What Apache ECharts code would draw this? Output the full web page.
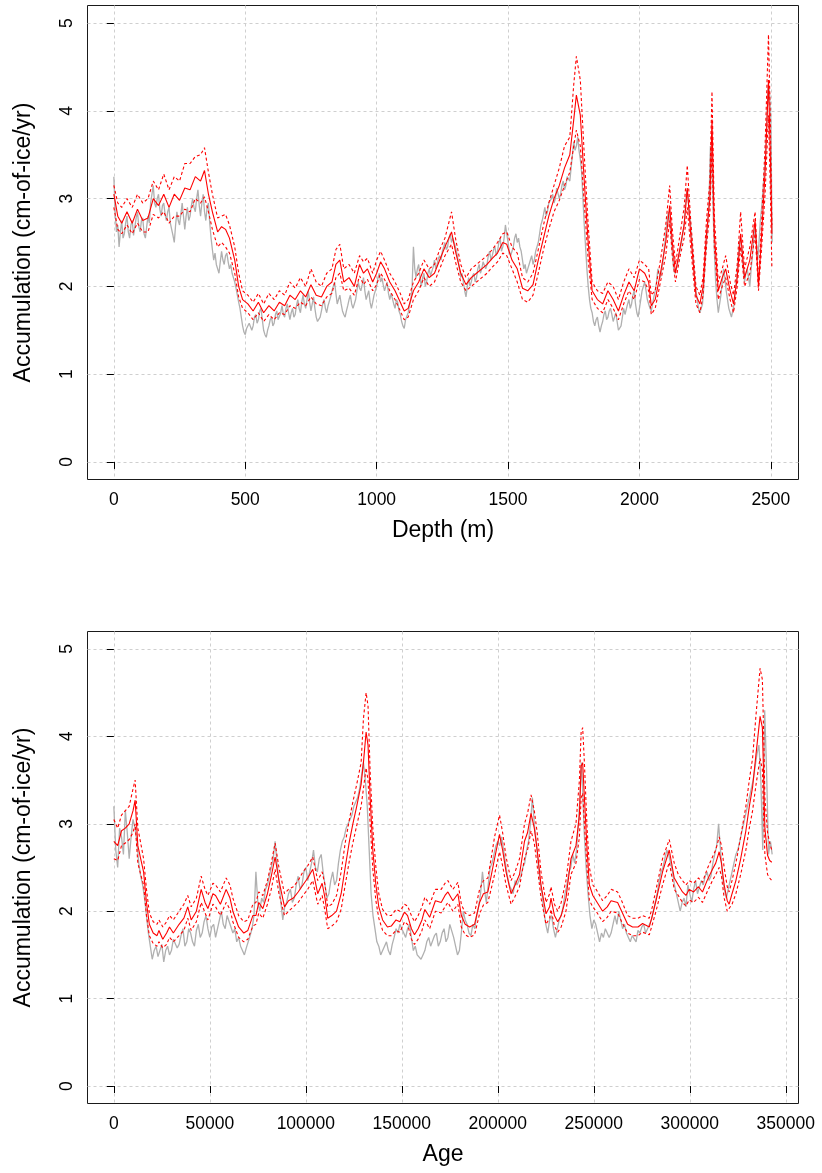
<!DOCTYPE html>
<html>
<head>
<meta charset="utf-8">
<script src="https://cdn.jsdelivr.net/npm/echarts@6/dist/echarts.min.js"></script>
<style>
html,body{margin:0;padding:0;background:#fff;}
#chart{width:822px;height:1173px;}
</style>
</head>
<body>
<div id="chart"></div>
<script>
// ---------- tick labels ----------
const accTicks = [0, 1, 2, 3, 4, 5];
const depthTicks = [0, 500, 1000, 1500, 2000, 2500];
const ageTicks = [0, 50000, 100000, 150000, 200000, 250000, 300000, 350000];

// ---------- top panel: accumulation vs depth ----------
const depthGray = [[0,3.25],[5,2.85],[10,2.62],[15,2.7],[20,2.45],[25,2.62],[30,2.75],[35,2.55],[40,2.6],[45,2.72],[50,2.8],[55,2.62],[60,2.55],[65,2.7],[70,2.75],[75,2.58],[80,2.6],[85,2.78],[90,2.85],[95,2.68],[100,2.62],[105,2.75],[110,2.78],[115,2.6],[120,2.55],[125,2.68],[130,2.8],[135,2.72],[140,2.95],[145,3.05],[150,3.15],[155,2.95],[160,2.9],[165,3.0],[170,3.05],[175,2.88],[180,2.8],[185,2.92],[190,2.95],[195,2.82],[200,2.75],[205,2.85],[210,2.9],[215,2.72],[220,2.65],[225,2.58],[230,2.5],[235,2.7],[240,2.85],[245,2.75],[250,2.7],[255,2.82],[260,2.95],[265,2.8],[270,2.65],[275,2.8],[280,2.9],[285,2.75],[290,2.8],[295,2.92],[300,3.0],[305,2.9],[310,2.85],[315,3.0],[320,3.1],[325,2.92],[330,2.8],[335,2.95],[340,3.05],[345,2.85],[350,2.75],[355,2.9],[360,2.95],[365,2.72],[370,2.55],[375,2.42],[380,2.3],[385,2.38],[390,2.25],[395,2.2],[400,2.15],[405,2.28],[410,2.4],[415,2.3],[420,2.25],[425,2.35],[430,2.38],[435,2.28],[440,2.2],[445,2.25],[450,2.15],[455,2.1],[460,2.05],[465,1.98],[470,1.9],[475,1.82],[480,1.75],[485,1.65],[490,1.55],[495,1.48],[500,1.45],[505,1.52],[510,1.5],[515,1.58],[520,1.6],[525,1.5],[530,1.55],[535,1.65],[540,1.68],[545,1.58],[550,1.62],[555,1.72],[560,1.75],[565,1.62],[570,1.5],[575,1.45],[580,1.42],[585,1.5],[590,1.55],[595,1.62],[600,1.65],[605,1.55],[610,1.58],[615,1.68],[620,1.72],[625,1.62],[630,1.6],[635,1.7],[640,1.78],[645,1.68],[650,1.65],[655,1.75],[660,1.8],[665,1.7],[670,1.62],[675,1.7],[680,1.75],[685,1.65],[690,1.68],[695,1.78],[700,1.85],[705,1.75],[710,1.7],[715,1.82],[720,1.9],[725,1.8],[730,1.75],[735,1.85],[740,1.95],[745,1.82],[750,1.72],[755,1.8],[760,1.88],[765,1.75],[770,1.65],[775,1.6],[780,1.58],[785,1.65],[790,1.72],[795,1.8],[800,1.85],[805,1.75],[810,1.7],[815,1.78],[820,1.8],[825,1.88],[830,1.95],[835,2.0],[840,2.05],[845,1.92],[850,1.8],[855,1.85],[860,1.9],[865,1.8],[870,1.72],[875,1.68],[880,1.65],[885,1.72],[890,1.78],[895,1.85],[900,1.9],[905,1.8],[910,1.75],[915,1.8],[920,1.85],[925,1.95],[930,2.05],[935,1.98],[940,1.95],[945,2.02],[950,2.1],[955,1.95],[960,1.85],[965,1.9],[970,1.95],[975,1.82],[980,1.75],[985,1.82],[990,1.9],[995,1.95],[1000,2.0],[1005,2.1],[1010,2.15],[1015,2.05],[1020,2.1],[1025,2.02],[1030,1.95],[1035,2.0],[1040,2.05],[1045,1.92],[1050,1.85],[1055,1.92],[1060,1.9],[1065,1.8],[1070,1.75],[1075,1.85],[1080,1.82],[1085,1.72],[1090,1.68],[1095,1.6],[1100,1.55],[1105,1.52],[1110,1.62],[1115,1.6],[1120,1.7],[1125,1.78],[1130,1.85],[1135,2.0],[1140,2.45],[1145,2.2],[1150,2.1],[1155,2.2],[1160,2.25],[1165,2.1],[1170,2.0],[1175,2.1],[1180,2.15],[1185,2.0],[1190,2.05],[1195,2.15],[1200,2.2],[1205,2.12],[1210,2.1],[1215,2.22],[1220,2.3],[1225,2.2],[1230,2.25],[1235,2.32],[1240,2.35],[1245,2.3],[1250,2.4],[1255,2.45],[1260,2.5],[1265,2.42],[1270,2.45],[1275,2.55],[1280,2.6],[1285,2.5],[1290,2.55],[1295,2.5],[1300,2.45],[1305,2.38],[1310,2.3],[1315,2.2],[1320,2.1],[1325,2.15],[1330,2.05],[1335,1.95],[1340,1.88],[1345,2.0],[1350,2.1],[1355,2.0],[1360,2.05],[1365,2.12],[1370,2.15],[1375,2.05],[1380,2.1],[1385,2.2],[1390,2.25],[1395,2.15],[1400,2.2],[1405,2.28],[1410,2.3],[1415,2.2],[1420,2.25],[1425,2.35],[1430,2.4],[1435,2.3],[1440,2.35],[1445,2.42],[1450,2.45],[1455,2.35],[1460,2.4],[1465,2.5],[1470,2.55],[1475,2.4],[1480,2.45],[1485,2.55],[1490,2.7],[1495,2.6],[1500,2.5],[1505,2.4],[1510,2.35],[1515,2.4],[1520,2.45],[1525,2.55],[1530,2.6],[1535,2.5],[1540,2.55],[1545,2.45],[1550,2.4],[1555,2.3],[1560,2.2],[1565,2.25],[1570,2.15],[1575,2.2],[1580,2.25],[1585,2.3],[1590,2.35],[1595,2.25],[1600,2.3],[1605,2.4],[1610,2.45],[1615,2.5],[1620,2.6],[1625,2.7],[1630,2.75],[1635,2.82],[1640,2.9],[1645,2.8],[1650,2.85],[1655,2.95],[1660,2.95],[1665,3.0],[1670,3.05],[1675,2.95],[1680,3.0],[1685,3.12],[1690,3.1],[1695,3.0],[1700,3.05],[1705,3.15],[1710,3.2],[1715,3.1],[1720,3.15],[1725,3.25],[1730,3.25],[1735,3.2],[1740,3.35],[1745,3.5],[1750,3.65],[1755,3.55],[1760,3.6],[1765,3.7],[1770,3.55],[1775,3.45],[1780,3.3],[1785,3.0],[1790,2.7],[1795,2.45],[1800,2.2],[1805,2.0],[1810,1.85],[1815,1.75],[1820,1.7],[1825,1.6],[1830,1.55],[1835,1.62],[1840,1.65],[1845,1.55],[1850,1.48],[1855,1.55],[1860,1.6],[1865,1.68],[1870,1.72],[1875,1.62],[1880,1.65],[1885,1.72],[1890,1.75],[1895,1.68],[1900,1.6],[1905,1.65],[1910,1.7],[1915,1.6],[1920,1.5],[1925,1.48],[1930,1.55],[1935,1.65],[1940,1.75],[1945,1.68],[1950,1.7],[1955,1.8],[1960,1.85],[1965,1.75],[1970,1.8],[1975,1.9],[1980,1.95],[1985,1.8],[1990,1.7],[1995,1.65],[2000,1.75],[2005,1.85],[2010,1.95],[2015,2.0],[2020,2.05],[2025,1.95],[2030,1.85],[2035,1.8],[2040,1.75],[2045,1.72],[2050,1.8],[2055,1.88],[2060,1.95],[2065,2.05],[2070,2.2],[2075,2.15],[2080,2.1],[2085,2.2],[2090,2.3],[2095,2.45],[2100,2.6],[2105,2.75],[2110,2.85],[2115,2.75],[2120,2.6],[2125,2.4],[2130,2.2],[2135,2.15],[2140,2.15],[2145,2.25],[2150,2.35],[2155,2.42],[2160,2.5],[2165,2.6],[2170,2.7],[2175,2.9],[2180,3.1],[2185,3.0],[2190,2.85],[2195,2.7],[2200,2.5],[2205,2.3],[2210,2.1],[2215,1.95],[2220,1.85],[2225,1.75],[2230,1.7],[2235,1.75],[2240,1.8],[2245,2.0],[2250,2.3],[2255,2.5],[2260,2.7],[2265,3.0],[2270,3.6],[2275,3.4],[2280,2.9],[2285,2.4],[2290,2.05],[2295,1.85],[2300,1.7],[2305,1.8],[2310,1.9],[2315,2.05],[2320,2.2],[2325,2.1],[2330,1.95],[2335,1.85],[2340,1.75],[2345,1.7],[2350,1.65],[2355,1.72],[2360,1.8],[2365,1.95],[2370,2.1],[2375,2.3],[2380,2.5],[2385,2.55],[2390,2.4],[2395,2.2],[2400,2.05],[2405,2.15],[2410,2.2],[2415,2.1],[2420,2.0],[2425,2.2],[2430,2.35],[2435,2.55],[2440,2.7],[2445,2.5],[2450,2.3],[2455,2.5],[2460,2.75],[2465,2.9],[2470,3.1],[2475,3.3],[2480,3.5],[2485,3.9],[2490,4.3],[2495,4.2],[2500,3.9],[2505,2.5]];

const depthMean = [[0,3.05],[15,2.8],[30,2.72],[50,2.85],[70,2.72],[90,2.88],[110,2.75],[130,2.78],[150,3.0],[170,2.92],[190,3.05],[210,2.9],[230,3.05],[250,2.98],[270,3.12],[290,3.1],[310,3.25],[330,3.2],[345,3.32],[360,3.05],[375,2.85],[395,2.62],[410,2.68],[425,2.65],[440,2.55],[460,2.3],[475,2.0],[490,1.85],[510,1.8],[530,1.72],[550,1.82],[570,1.7],[590,1.78],[610,1.72],[630,1.82],[650,1.78],[670,1.9],[690,1.85],[710,1.95],[730,1.88],[750,2.02],[770,1.9],[790,1.88],[810,2.0],[830,2.05],[845,2.25],[860,2.3],[875,2.05],[895,2.1],[915,2.0],[935,2.25],[950,2.15],[965,2.2],[985,2.05],[1000,2.15],[1015,2.28],[1030,2.2],[1050,2.05],[1070,1.95],[1090,1.82],[1105,1.72],[1120,1.75],[1140,1.95],[1160,2.05],[1180,2.2],[1200,2.1],[1220,2.15],[1240,2.3],[1260,2.45],[1285,2.62],[1300,2.4],[1320,2.15],[1340,2.02],[1360,2.1],[1380,2.15],[1400,2.2],[1420,2.25],[1440,2.32],[1460,2.38],[1480,2.5],[1495,2.48],[1515,2.3],[1535,2.2],[1555,1.98],[1575,1.95],[1595,2.02],[1615,2.3],[1635,2.55],[1655,2.8],[1675,3.0],[1695,3.15],[1715,3.35],[1735,3.5],[1750,3.9],[1760,4.18],[1775,3.95],[1790,3.2],[1805,2.5],[1820,1.95],[1840,1.85],[1860,1.8],[1880,1.95],[1900,1.85],[1920,1.72],[1940,1.9],[1960,2.05],[1980,1.95],[2000,2.2],[2020,2.15],[2035,2.05],[2045,1.78],[2060,1.85],[2080,2.15],[2100,2.5],[2115,2.92],[2125,2.5],[2137,2.15],[2155,2.45],[2170,2.7],[2182,3.12],[2195,2.6],[2215,1.9],[2230,1.8],[2242,2.0],[2255,2.6],[2268,3.0],[2276,3.9],[2285,2.6],[2300,1.95],[2315,2.1],[2328,2.2],[2345,1.95],[2358,1.8],[2372,2.1],[2385,2.6],[2400,2.1],[2420,2.3],[2440,2.75],[2453,2.0],[2465,2.6],[2478,3.3],[2491,4.35],[2498,3.5],[2504,2.6]];

const depthUpper = [[0,3.15],[15,2.95],[30,2.9],[50,3.0],[70,2.9],[90,3.05],[110,2.95],[130,3.0],[150,3.2],[170,3.1],[190,3.28],[210,3.1],[230,3.25],[250,3.2],[270,3.4],[290,3.4],[310,3.48],[330,3.5],[345,3.58],[360,3.3],[375,3.05],[395,2.78],[410,2.8],[425,2.82],[440,2.7],[460,2.45],[475,2.15],[490,1.95],[510,1.9],[530,1.82],[550,1.92],[570,1.8],[590,1.92],[610,1.85],[630,1.95],[650,1.9],[670,2.05],[690,1.98],[710,2.1],[730,2.0],[750,2.2],[770,2.05],[790,2.0],[810,2.15],[830,2.2],[845,2.42],[860,2.48],[875,2.2],[895,2.25],[915,2.15],[935,2.35],[950,2.28],[965,2.32],[985,2.15],[1000,2.3],[1015,2.4],[1030,2.3],[1050,2.15],[1070,2.05],[1090,1.92],[1105,1.8],[1120,1.85],[1140,2.05],[1160,2.15],[1180,2.3],[1200,2.2],[1220,2.25],[1240,2.42],[1260,2.55],[1285,2.85],[1300,2.55],[1320,2.25],[1340,2.1],[1360,2.2],[1380,2.25],[1400,2.3],[1420,2.35],[1440,2.42],[1460,2.5],[1480,2.6],[1495,2.62],[1515,2.45],[1535,2.38],[1555,2.1],[1575,2.05],[1595,2.15],[1615,2.42],[1635,2.7],[1655,2.95],[1675,3.15],[1695,3.35],[1715,3.6],[1735,3.7],[1750,4.3],[1760,4.62],[1775,4.35],[1790,3.5],[1805,2.7],[1820,2.05],[1840,1.95],[1860,1.92],[1880,2.05],[1900,2.0],[1920,1.85],[1940,2.05],[1960,2.2],[1980,2.1],[2000,2.3],[2020,2.25],[2035,2.2],[2045,1.9],[2060,1.95],[2080,2.3],[2100,2.7],[2115,3.15],[2125,2.65],[2137,2.25],[2155,2.6],[2170,2.9],[2182,3.38],[2195,2.75],[2215,2.0],[2230,1.9],[2242,2.1],[2255,2.75],[2268,3.2],[2276,4.22],[2285,2.8],[2300,2.05],[2315,2.2],[2328,2.35],[2345,2.05],[2358,1.9],[2372,2.25],[2385,2.85],[2400,2.2],[2420,2.45],[2440,2.85],[2453,2.05],[2465,2.75],[2478,3.6],[2491,4.87],[2498,3.9],[2504,2.7]];

const depthLower = [[0,2.9],[15,2.65],[30,2.6],[50,2.7],[70,2.6],[90,2.72],[110,2.62],[130,2.62],[150,2.82],[170,2.78],[190,2.85],[210,2.72],[230,2.8],[250,2.8],[270,2.88],[290,2.85],[310,3.0],[330,2.95],[345,3.02],[360,2.85],[375,2.65],[395,2.45],[410,2.5],[425,2.45],[440,2.38],[460,2.15],[475,1.88],[490,1.75],[510,1.7],[530,1.62],[550,1.7],[570,1.6],[590,1.68],[610,1.62],[630,1.7],[650,1.68],[670,1.78],[690,1.75],[710,1.82],[730,1.78],[750,1.88],[770,1.8],[790,1.78],[810,1.88],[830,1.92],[845,2.1],[860,2.15],[875,1.95],[895,1.98],[915,1.9],[935,2.12],[950,2.02],[965,2.08],[985,1.95],[1000,2.02],[1015,2.15],[1030,2.08],[1050,1.95],[1070,1.85],[1090,1.72],[1105,1.62],[1120,1.65],[1140,1.85],[1160,1.95],[1180,2.1],[1200,2.0],[1220,2.05],[1240,2.2],[1260,2.35],[1285,2.48],[1300,2.28],[1320,2.05],[1340,1.95],[1360,2.0],[1380,2.05],[1400,2.1],[1420,2.15],[1440,2.22],[1460,2.28],[1480,2.38],[1495,2.35],[1515,2.2],[1535,2.05],[1555,1.85],[1575,1.82],[1595,1.9],[1615,2.15],[1635,2.42],[1655,2.65],[1675,2.85],[1695,2.98],[1715,3.15],[1735,3.3],[1750,3.6],[1760,3.78],[1775,3.6],[1790,2.95],[1805,2.3],[1820,1.85],[1840,1.75],[1860,1.7],[1880,1.85],[1900,1.75],[1920,1.62],[1940,1.8],[1960,1.95],[1980,1.85],[2000,2.08],[2020,2.05],[2035,1.95],[2045,1.68],[2060,1.75],[2080,2.05],[2100,2.35],[2115,2.75],[2125,2.35],[2137,2.05],[2155,2.35],[2170,2.55],[2182,2.9],[2195,2.45],[2215,1.8],[2230,1.7],[2242,1.9],[2255,2.45],[2268,2.85],[2276,3.6],[2285,2.45],[2300,1.85],[2315,2.0],[2328,2.1],[2345,1.85],[2358,1.7],[2372,2.0],[2385,2.45],[2400,2.0],[2420,2.15],[2440,2.6],[2453,1.95],[2465,2.45],[2478,3.05],[2491,3.95],[2498,3.1],[2504,2.2]];

// ---------- bottom panel: accumulation vs age ----------
const ageGray = [[0,3.2],[1000,2.7],[2000,2.5],[3000,2.95],[4000,2.85],[5000,2.65],[6000,3.15],[7000,2.9],[8000,2.6],[9000,2.85],[10000,3.05],[11000,2.95],[12000,2.8],[13000,2.55],[14000,2.4],[15000,2.3],[16000,2.15],[17000,1.95],[18000,1.75],[19000,1.6],[20000,1.45],[21000,1.55],[22000,1.6],[23000,1.48],[24000,1.5],[25000,1.62],[26000,1.42],[27000,1.55],[28000,1.6],[29000,1.5],[30000,1.55],[31000,1.68],[32000,1.7],[33000,1.58],[34000,1.62],[35000,1.72],[36000,1.8],[37000,1.6],[38000,1.65],[39000,1.8],[40000,1.75],[41000,1.65],[42000,1.6],[43000,1.78],[44000,1.85],[45000,1.7],[46000,1.75],[47000,1.88],[48000,1.95],[49000,1.8],[50000,1.7],[51000,1.82],[52000,1.85],[53000,1.7],[54000,1.72],[55000,1.9],[56000,2.0],[57000,1.85],[58000,1.8],[59000,1.95],[60000,1.95],[61000,1.82],[62000,1.75],[63000,1.8],[64000,1.65],[65000,1.7],[66000,1.6],[67000,1.55],[68000,1.5],[69000,1.58],[70000,1.65],[71000,1.72],[72000,1.8],[73000,1.95],[74000,2.45],[75000,2.1],[76000,2.0],[77000,2.15],[78000,2.1],[79000,2.25],[80000,2.3],[81000,2.4],[82000,2.5],[83000,2.6],[84000,2.8],[85000,2.55],[86000,2.35],[87000,2.1],[88000,1.9],[89000,2.05],[90000,2.1],[91000,2.2],[92000,2.25],[93000,2.1],[94000,2.15],[95000,2.3],[96000,2.4],[97000,2.25],[98000,2.3],[99000,2.45],[100000,2.5],[101000,2.35],[102000,2.45],[103000,2.55],[104000,2.7],[105000,2.5],[106000,2.45],[107000,2.6],[108000,2.65],[109000,2.45],[110000,2.3],[111000,2.15],[112000,2.2],[113000,2.35],[114000,2.45],[115000,2.3],[116000,2.35],[117000,2.55],[118000,2.7],[119000,2.8],[120000,2.85],[121000,2.95],[122000,3.0],[123000,3.05],[124000,3.1],[125000,3.2],[126000,3.25],[127000,3.3],[128000,3.4],[129000,3.55],[130000,3.7],[131000,3.5],[132000,3.2],[133000,2.7],[134000,2.2],[135000,1.95],[136000,1.8],[137000,1.65],[138000,1.6],[139000,1.5],[140000,1.55],[141000,1.6],[142000,1.65],[143000,1.55],[144000,1.5],[145000,1.62],[146000,1.7],[147000,1.8],[148000,1.75],[149000,1.85],[150000,1.8],[151000,1.75],[152000,1.7],[153000,1.8],[154000,1.85],[155000,1.7],[156000,1.55],[157000,1.6],[158000,1.5],[159000,1.48],[160000,1.45],[161000,1.5],[162000,1.55],[163000,1.65],[164000,1.7],[165000,1.6],[166000,1.62],[167000,1.72],[168000,1.75],[169000,1.6],[170000,1.65],[171000,1.75],[172000,1.8],[173000,1.65],[174000,1.7],[175000,1.85],[176000,1.85],[177000,1.7],[178000,1.6],[179000,1.5],[180000,1.55],[181000,1.75],[182000,2.0],[183000,1.9],[184000,1.85],[185000,1.75],[186000,1.72],[187000,1.85],[188000,1.8],[189000,1.95],[190000,2.05],[191000,2.2],[192000,2.45],[193000,2.25],[194000,2.1],[195000,2.3],[196000,2.5],[197000,2.55],[198000,2.65],[199000,2.75],[200000,2.8],[201000,2.75],[202000,2.85],[203000,2.7],[204000,2.55],[205000,2.4],[206000,2.3],[207000,2.25],[208000,2.2],[209000,2.35],[210000,2.3],[211000,2.35],[212000,2.4],[213000,2.5],[214000,2.55],[215000,2.7],[216000,2.8],[217000,3.0],[218000,3.3],[219000,3.0],[220000,2.8],[221000,2.55],[222000,2.35],[223000,2.2],[224000,2.0],[225000,1.85],[226000,1.75],[227000,1.9],[228000,1.95],[229000,1.8],[230000,1.7],[231000,1.8],[232000,1.9],[233000,1.95],[234000,2.05],[235000,2.2],[236000,2.3],[237000,2.45],[238000,2.5],[239000,2.65],[240000,2.55],[241000,2.7],[242000,3.0],[243000,3.4],[243500,3.7],[244000,3.5],[245000,2.9],[246000,2.5],[247000,2.2],[248000,1.95],[249000,1.8],[250000,1.9],[251000,1.85],[252000,1.75],[253000,1.65],[254000,1.75],[255000,1.7],[256000,1.8],[257000,1.8],[258000,1.7],[259000,1.75],[260000,1.85],[261000,1.95],[262000,1.85],[263000,2.0],[264000,1.9],[265000,1.8],[266000,1.85],[267000,1.75],[268000,1.7],[269000,1.65],[270000,1.72],[271000,1.7],[272000,1.65],[273000,1.78],[274000,1.75],[275000,1.82],[276000,1.85],[277000,1.75],[278000,1.8],[279000,1.85],[280000,1.9],[281000,2.0],[282000,2.1],[283000,2.2],[284000,2.35],[285000,2.45],[286000,2.5],[287000,2.6],[288000,2.7],[289000,2.65],[290000,2.55],[291000,2.45],[292000,2.3],[293000,2.2],[294000,2.1],[295000,2.0],[296000,2.1],[297000,2.15],[298000,2.05],[299000,2.3],[300000,2.2],[301000,2.1],[302000,2.25],[303000,2.35],[304000,2.2],[305000,2.2],[306000,2.35],[307000,2.3],[308000,2.4],[309000,2.45],[310000,2.35],[311000,2.4],[312000,2.55],[313000,2.65],[314000,2.75],[315000,3.0],[316000,2.7],[317000,2.4],[318000,2.25],[319000,2.15],[320000,2.25],[321000,2.35],[322000,2.45],[323000,2.55],[324000,2.65],[325000,2.7],[326000,2.8],[327000,2.9],[328000,3.0],[329000,3.1],[330000,3.2],[331000,3.3],[332000,3.4],[333000,3.5],[334000,3.65],[335000,3.8],[336000,3.9],[337000,3.5],[338000,2.7],[339000,4.3],[340000,3.6],[341000,2.65],[342000,2.8],[342900,2.65]];

const ageMean = [[0,2.8],[2000,2.75],[4000,2.92],[6000,2.95],[8000,3.0],[10000,3.15],[11100,3.27],[12500,2.75],[14000,2.6],[15500,2.45],[17000,2.1],[18500,1.85],[20500,1.75],[22500,1.72],[23500,1.78],[25500,1.68],[27500,1.75],[29000,1.82],[31000,1.75],[34000,1.85],[36500,1.92],[38500,2.05],[40300,1.9],[43000,2.0],[45500,2.25],[47500,2.1],[49000,2.03],[51600,2.2],[53000,2.18],[55500,2.08],[58500,2.25],[60500,2.15],[62000,2.0],[65000,1.82],[67700,1.75],[69800,1.78],[72400,1.95],[74000,1.95],[75500,2.1],[77600,2.03],[80000,2.2],[82000,2.4],[84000,2.62],[86000,2.35],[88900,2.05],[91000,2.12],[93500,2.15],[96000,2.22],[98500,2.3],[101000,2.38],[103600,2.48],[106200,2.2],[108500,2.32],[110000,2.15],[111400,1.92],[113500,1.95],[116000,2.0],[118400,2.2],[120500,2.5],[122700,2.8],[124500,3.0],[126500,3.2],[128800,3.45],[130000,3.7],[131400,4.05],[132400,3.9],[133500,3.3],[134900,2.7],[136500,2.3],[138000,2.05],[140000,1.9],[142500,1.82],[144500,1.83],[147000,1.9],[149000,1.88],[151400,1.99],[153000,1.95],[155000,1.8],[156600,1.73],[158500,1.8],[160500,1.9],[162000,2.02],[164500,1.93],[167500,2.12],[170500,2.1],[172500,2.18],[174000,2.22],[176600,2.12],[179200,2.2],[181000,1.95],[183000,1.85],[185300,1.82],[187900,1.85],[190500,2.1],[192500,2.2],[194800,2.22],[196500,2.4],[198300,2.6],[200900,2.88],[202500,2.7],[204300,2.45],[206900,2.2],[209000,2.3],[211300,2.42],[213900,2.8],[215500,2.9],[217300,3.12],[219000,2.95],[220500,2.7],[222500,2.3],[225100,1.97],[227000,2.05],[227700,2.15],[229500,1.95],[231200,1.88],[233000,1.95],[235500,2.15],[238100,2.6],[240700,2.75],[242500,3.1],[243400,3.66],[244200,3.7],[245100,3.3],[246500,2.7],[247700,2.3],[249500,2.18],[251200,2.12],[254600,2.0],[257000,2.05],[259000,2.12],[262400,2.1],[264500,2.0],[267600,1.85],[270200,1.82],[273000,1.82],[275400,1.86],[278900,1.82],[280500,1.95],[282400,2.12],[285800,2.45],[289300,2.7],[291900,2.38],[294000,2.3],[296200,2.22],[298000,2.18],[299700,2.25],[302000,2.22],[304500,2.28],[306600,2.22],[309000,2.35],[311800,2.48],[313500,2.55],[315300,2.68],[316500,2.55],[317900,2.3],[319500,2.12],[320500,2.08],[322000,2.2],[324000,2.35],[326500,2.6],[329200,2.92],[331000,3.2],[332700,3.42],[334500,3.8],[336600,4.23],[337800,4.1],[338500,3.5],[339100,2.95],[340500,2.64],[341600,2.58],[342700,2.56]];

const ageUpper = [[0,3.05],[2000,2.95],[4000,3.1],[6000,3.15],[8000,3.2],[10000,3.4],[11100,3.5],[12500,2.95],[14000,2.78],[15500,2.6],[17000,2.25],[18500,1.98],[20500,1.88],[22500,1.85],[23500,1.9],[25500,1.82],[27500,1.88],[29000,1.95],[31000,1.9],[34000,2.0],[36500,2.08],[38500,2.18],[40300,2.05],[43000,2.15],[45500,2.4],[47500,2.25],[49000,2.18],[51600,2.32],[53000,2.3],[55500,2.22],[58500,2.38],[60500,2.3],[62000,2.15],[65000,1.95],[67700,1.88],[69800,1.9],[72400,2.08],[74000,2.1],[75500,2.22],[77600,2.18],[80000,2.35],[82000,2.55],[84000,2.78],[86000,2.5],[88900,2.2],[91000,2.25],[93500,2.28],[96000,2.35],[98500,2.45],[101000,2.52],[103600,2.62],[106200,2.35],[108500,2.45],[110000,2.3],[111400,2.05],[113500,2.08],[116000,2.18],[118400,2.45],[120500,2.78],[122700,3.05],[124500,3.25],[126500,3.45],[128800,3.7],[130000,4.2],[131400,4.5],[132400,4.35],[133500,3.6],[134900,2.95],[136500,2.5],[138000,2.2],[140000,2.02],[142500,1.95],[144500,1.95],[147000,2.02],[149000,2.0],[151400,2.08],[153000,2.06],[155000,1.95],[156600,1.88],[158500,1.95],[160500,2.05],[162000,2.16],[164500,2.08],[167500,2.25],[170500,2.25],[172500,2.32],[174000,2.35],[176600,2.25],[179200,2.33],[181000,2.08],[183000,1.98],[185300,1.95],[187900,1.98],[190500,2.25],[192500,2.35],[194800,2.38],[196500,2.6],[198300,2.85],[200900,3.1],[202500,2.9],[204300,2.62],[206900,2.35],[209000,2.45],[211300,2.6],[213900,3.0],[215500,3.12],[217300,3.33],[219000,3.15],[220500,2.9],[222500,2.45],[225100,2.1],[227000,2.2],[227700,2.28],[229500,2.08],[231200,2.0],[233000,2.1],[235500,2.35],[238100,2.8],[240700,3.0],[242500,3.5],[243400,4.05],[244200,4.1],[245100,3.7],[246500,2.95],[247700,2.5],[249500,2.3],[251200,2.25],[254600,2.12],[257000,2.18],[259000,2.25],[262400,2.22],[264500,2.12],[267600,1.95],[270200,1.92],[273000,1.92],[275400,1.95],[278900,1.92],[280500,2.05],[282400,2.25],[285800,2.6],[289300,2.82],[291900,2.55],[294000,2.42],[296200,2.35],[298000,2.3],[299700,2.35],[302000,2.32],[304500,2.38],[306600,2.33],[309000,2.48],[311800,2.62],[313500,2.7],[315300,2.85],[316500,2.75],[317900,2.5],[319500,2.28],[320500,2.22],[322000,2.35],[324000,2.55],[326500,2.85],[329200,3.2],[331000,3.5],[332700,3.75],[334500,4.25],[336600,4.78],[337800,4.65],[338500,4.0],[339100,3.3],[340500,2.9],[341600,2.78],[342700,2.7]];

const ageLower = [[0,2.6],[2000,2.58],[4000,2.75],[6000,2.78],[8000,2.82],[10000,2.9],[11100,3.0],[12500,2.55],[14000,2.42],[15500,2.3],[17000,1.95],[18500,1.72],[20500,1.63],[22500,1.6],[23500,1.65],[25500,1.58],[27500,1.62],[29000,1.7],[31000,1.65],[34000,1.72],[36500,1.78],[38500,1.92],[40300,1.78],[43000,1.88],[45500,2.1],[47500,1.98],[49000,1.9],[51600,2.08],[53000,2.05],[55500,1.95],[58500,2.1],[60500,2.02],[62000,1.88],[65000,1.7],[67700,1.65],[69800,1.68],[72400,1.83],[74000,1.85],[75500,1.98],[77600,1.92],[80000,2.08],[82000,2.25],[84000,2.48],[86000,2.2],[88900,1.95],[91000,2.0],[93500,2.05],[96000,2.1],[98500,2.18],[101000,2.25],[103600,2.35],[106200,2.08],[108500,2.18],[110000,2.0],[111400,1.8],[113500,1.83],[116000,1.88],[118400,2.02],[120500,2.3],[122700,2.58],[124500,2.78],[126500,2.98],[128800,3.2],[130000,3.4],[131400,3.64],[132400,3.5],[133500,3.0],[134900,2.48],[136500,2.12],[138000,1.92],[140000,1.78],[142500,1.72],[144500,1.72],[147000,1.78],[149000,1.76],[151400,1.88],[153000,1.85],[155000,1.68],[156600,1.62],[158500,1.68],[160500,1.78],[162000,1.9],[164500,1.8],[167500,2.0],[170500,1.98],[172500,2.05],[174000,2.1],[176600,2.0],[179200,2.08],[181000,1.82],[183000,1.73],[185300,1.7],[187900,1.73],[190500,1.97],[192500,2.07],[194800,2.1],[196500,2.25],[198300,2.42],[200900,2.68],[202500,2.52],[204300,2.3],[206900,2.08],[209000,2.17],[211300,2.28],[213900,2.6],[215500,2.7],[217300,2.92],[219000,2.78],[220500,2.52],[222500,2.15],[225100,1.85],[227000,1.92],[227700,2.02],[229500,1.83],[231200,1.76],[233000,1.82],[235500,2.0],[238100,2.42],[240700,2.55],[242500,2.85],[243400,3.3],[244200,3.35],[245100,3.0],[246500,2.48],[247700,2.12],[249500,2.05],[251200,2.0],[254600,1.88],[257000,1.93],[259000,2.0],[262400,1.98],[264500,1.88],[267600,1.75],[270200,1.72],[273000,1.72],[275400,1.76],[278900,1.73],[280500,1.85],[282400,2.0],[285800,2.3],[289300,2.56],[291900,2.25],[294000,2.18],[296200,2.1],[298000,2.06],[299700,2.13],[302000,2.1],[304500,2.16],[306600,2.1],[309000,2.22],[311800,2.35],[313500,2.42],[315300,2.5],[316500,2.4],[317900,2.15],[319500,2.0],[320500,1.98],[322000,2.08],[324000,2.2],[326500,2.42],[329200,2.7],[331000,2.95],[332700,3.15],[334500,3.45],[336600,3.75],[337800,3.62],[338500,3.05],[339100,2.65],[340500,2.42],[341600,2.38],[342700,2.35]];

// ---------- styling ----------
const FONT = 'Liberation Sans, Arial, Helvetica, sans-serif';
const GRAY = '#b0b0b0';
const RED = '#ff0000';

function xAxisCfg(grid, name, ticks, min, max) {
  return {
    type: 'value', gridIndex: grid, min: min, max: max,
    name: name, nameLocation: 'middle', nameGap: 40,
    nameTextStyle: {fontSize: 23, color: '#000', fontFamily: FONT},
    axisLine: {show: false},
    axisTick: {show: true, length: 7, customValues: ticks, lineStyle: {color: '#000', width: 1}},
    axisLabel: {customValues: ticks, fontSize: 17.5, color: '#000', fontFamily: FONT, margin: 12,
                formatter: function (v) { return String(v); }},
    splitLine: {show: true, lineStyle: {color: '#cfcfcf', width: 1, type: [3, 3]}}
  };
}
function yAxisCfg(grid) {
  return {
    type: 'value', gridIndex: grid, min: -0.2, max: 5.2,
    name: 'Accumulation (cm-of-ice/yr)', nameLocation: 'middle', nameGap: 52,
    nameTextStyle: {fontSize: 23, color: '#000', fontFamily: FONT},
    axisLine: {show: false},
    axisTick: {show: true, length: 7, customValues: accTicks, lineStyle: {color: '#000', width: 1}},
    axisLabel: {customValues: accTicks, rotate: 90, fontSize: 17.5, color: '#000', fontFamily: FONT, margin: 11,
                formatter: function (v) { return String(v); }},
    splitLine: {show: true, lineStyle: {color: '#cfcfcf', width: 1, type: [3, 3]}}
  };
}
function lineSeries(data, grid, color, width, type, z) {
  return {
    type: 'line', data: data, xAxisIndex: grid, yAxisIndex: grid,
    showSymbol: false, symbol: 'none', silent: true, z: z,
    lineStyle: {color: color, width: width, type: type}
  };
}

const chart = echarts.init(document.getElementById('chart'), null, {renderer: 'canvas'});
chart.setOption({
  animation: false,
  backgroundColor: '#ffffff',
  grid: [
    {left: 87.5, top: 5.5, width: 711, height: 474, show: true, borderColor: '#1a1a1a', borderWidth: 1,
     backgroundColor: 'rgba(0,0,0,0)', containLabel: false, outerBoundsMode: 'none'},
    {left: 87.5, top: 631.5, width: 711, height: 472, show: true, borderColor: '#1a1a1a', borderWidth: 1,
     backgroundColor: 'rgba(0,0,0,0)', containLabel: false, outerBoundsMode: 'none'}
  ],
  xAxis: [
    xAxisCfg(0, 'Depth (m)', depthTicks, -100.2, 2605.2),
    xAxisCfg(1, 'Age', ageTicks, -13716, 356616)
  ],
  yAxis: [yAxisCfg(0), yAxisCfg(1)],
  series: [
    lineSeries(depthGray, 0, GRAY, 1.3, 'solid', 2),
    lineSeries(depthMean, 0, RED, 1.1, 'solid', 3),
    lineSeries(depthUpper, 0, RED, 1.1, [3, 2.5], 3),
    lineSeries(depthLower, 0, RED, 1.1, [3, 2.5], 3),
    lineSeries(ageGray, 1, GRAY, 1.3, 'solid', 2),
    lineSeries(ageMean, 1, RED, 1.1, 'solid', 3),
    lineSeries(ageUpper, 1, RED, 1.1, [3, 2.5], 3),
    lineSeries(ageLower, 1, RED, 1.1, [3, 2.5], 3)
  ]
});
</script>
</body>
</html>
